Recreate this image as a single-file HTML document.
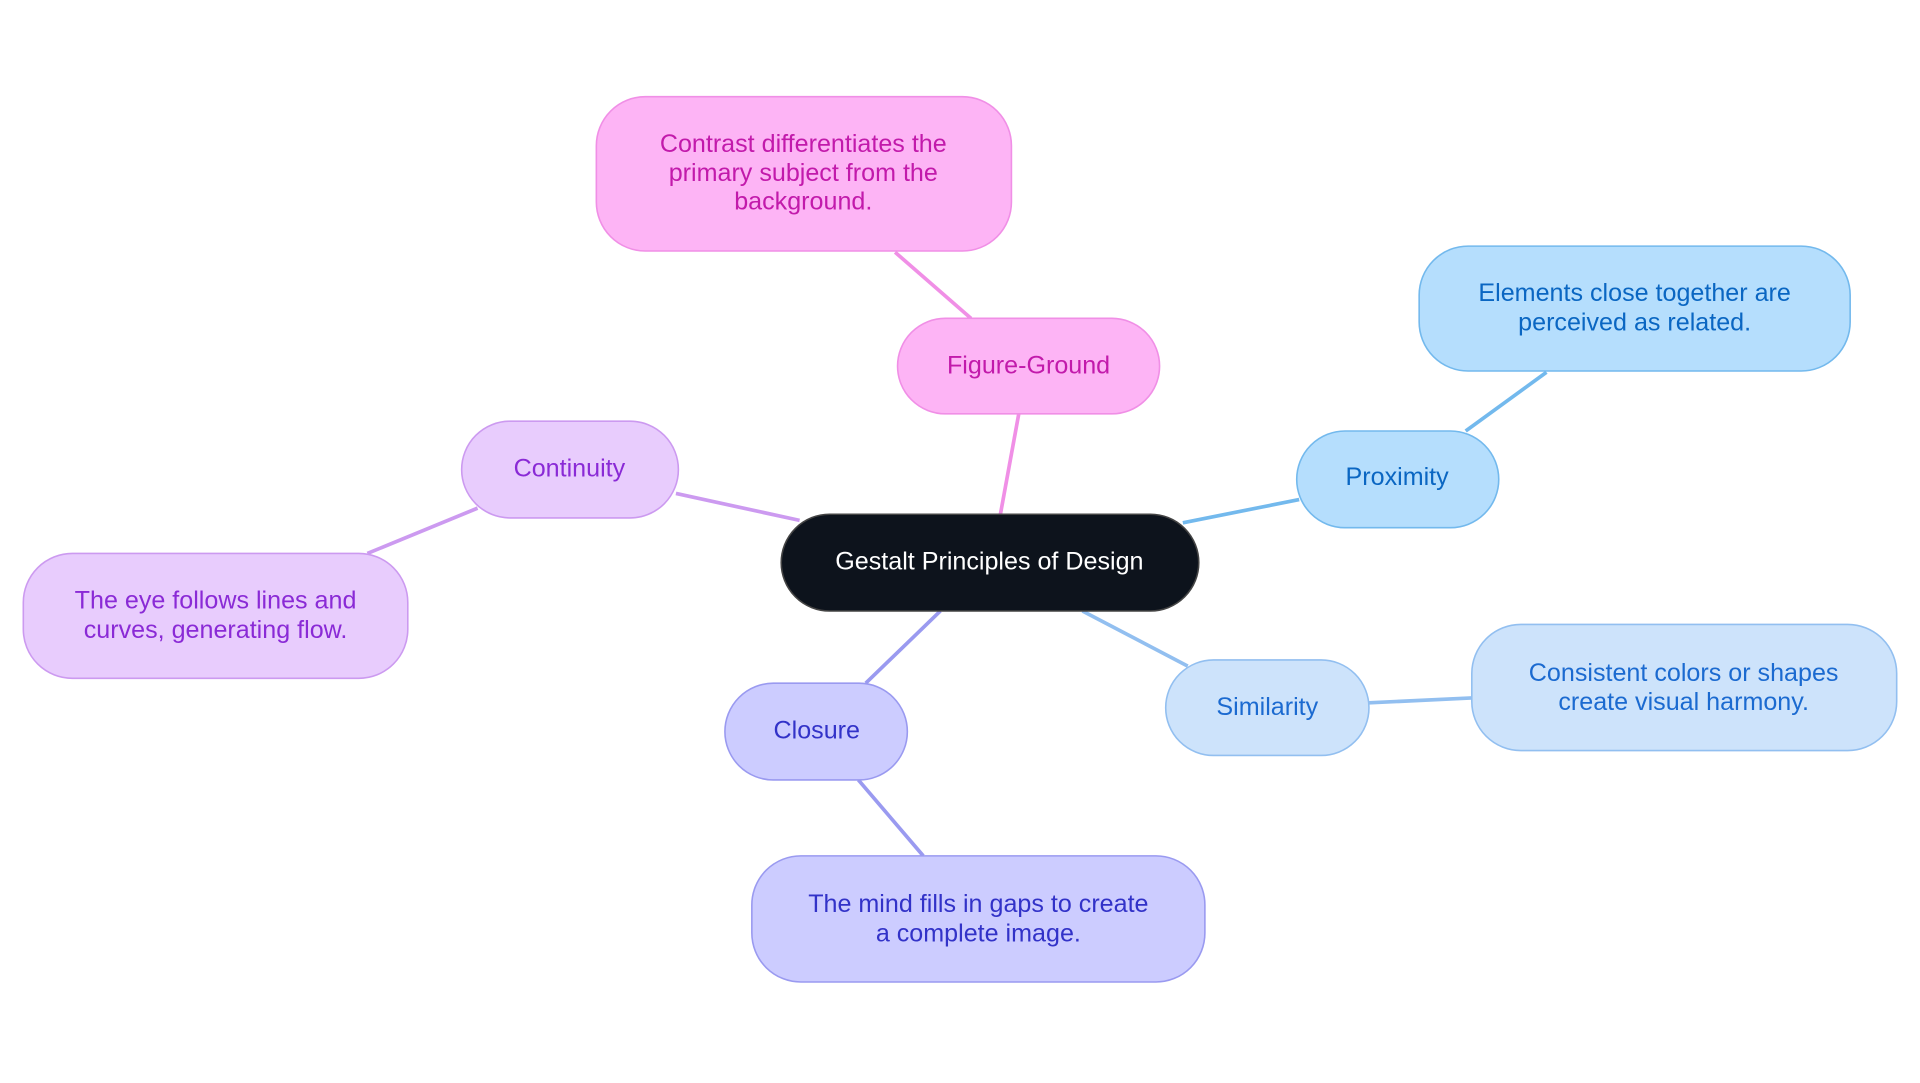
<!DOCTYPE html>
<html><head><meta charset="utf-8"><style>
html,body{margin:0;padding:0;background:#fff;width:1920px;height:1083px;overflow:hidden}
svg{display:block}
text{font-family:"Liberation Sans",sans-serif;font-size:20.5px;text-anchor:middle}
</style></head><body>
<svg width="1920" height="1083" viewBox="0 0 1568 884.5" xmlns="http://www.w3.org/2000/svg">
<g stroke-width="3" fill="none">
<line x1="817" y1="420" x2="832" y2="338" stroke="#f08fe6"/>
<line x1="793" y1="260" x2="731" y2="206" stroke="#f08fe6"/>
<line x1="966" y1="427" x2="1061" y2="408" stroke="#73b9ed"/>
<line x1="1197" y1="352" x2="1263" y2="304" stroke="#73b9ed"/>
<line x1="884" y1="499" x2="970" y2="544" stroke="#92bff0"/>
<line x1="1118" y1="574" x2="1202" y2="570" stroke="#92bff0"/>
<line x1="768" y1="499" x2="707" y2="558" stroke="#9a9af0"/>
<line x1="701" y1="637" x2="754" y2="699" stroke="#9a9af0"/>
<line x1="653" y1="425" x2="552" y2="403" stroke="#cc9af0"/>
<line x1="390" y1="415" x2="300" y2="452" stroke="#cc9af0"/>
</g>
<g stroke-width="1.3">
<rect x="638" y="420" width="341" height="79" rx="39.5" fill="#0d131c" stroke="#444"/>
<rect x="733" y="260" width="214" height="78" rx="39" fill="#fdb4f5" stroke="#f08fe6"/>
<rect x="487" y="79" width="339" height="126" rx="40" fill="#fdb4f5" stroke="#f08fe6"/>
<rect x="1059" y="352" width="165" height="79" rx="39.5" fill="#b5defd" stroke="#73b9ed"/>
<rect x="1159" y="201" width="352" height="102" rx="40" fill="#b5defd" stroke="#73b9ed"/>
<rect x="952" y="539" width="166" height="78" rx="39" fill="#cde3fb" stroke="#92bff0"/>
<rect x="1202" y="510" width="347" height="103" rx="40" fill="#cde3fb" stroke="#92bff0"/>
<rect x="592" y="558" width="149" height="79" rx="39.5" fill="#ccccff" stroke="#9a9af0"/>
<rect x="614" y="699" width="370" height="103" rx="40" fill="#ccccff" stroke="#9a9af0"/>
<rect x="377" y="344" width="177" height="79" rx="39.5" fill="#e8ccfd" stroke="#cc9af0"/>
<rect x="19" y="452" width="314" height="102" rx="40" fill="#e8ccfd" stroke="#cc9af0"/>
</g>
<text x="808" y="465" fill="#ffffff">Gestalt Principles of Design</text>
<text x="840" y="305" fill="#c21aab">Figure-Ground</text>
<g fill="#c21aab"><text x="656" y="124">Contrast differentiates the</text><text x="656" y="148">primary subject from the</text><text x="656" y="171">background.</text></g>
<text x="1141" y="396" fill="#0a66c2">Proximity</text>
<g fill="#0a66c2"><text x="1335" y="246">Elements close together are</text><text x="1335" y="270">perceived as related.</text></g>
<text x="1035" y="584" fill="#1b6ad0">Similarity</text>
<g fill="#1b6ad0"><text x="1375" y="556">Consistent colors or shapes</text><text x="1375" y="580">create visual harmony.</text></g>
<text x="667" y="603" fill="#3232c8">Closure</text>
<g fill="#3232c8"><text x="799" y="745">The mind fills in gaps to create</text><text x="799" y="769">a complete image.</text></g>
<text x="465" y="389" fill="#8a2ad6">Continuity</text>
<g fill="#8a2ad6"><text x="176" y="497">The eye follows lines and</text><text x="176" y="521">curves, generating flow.</text></g>
</svg>
</body></html>
